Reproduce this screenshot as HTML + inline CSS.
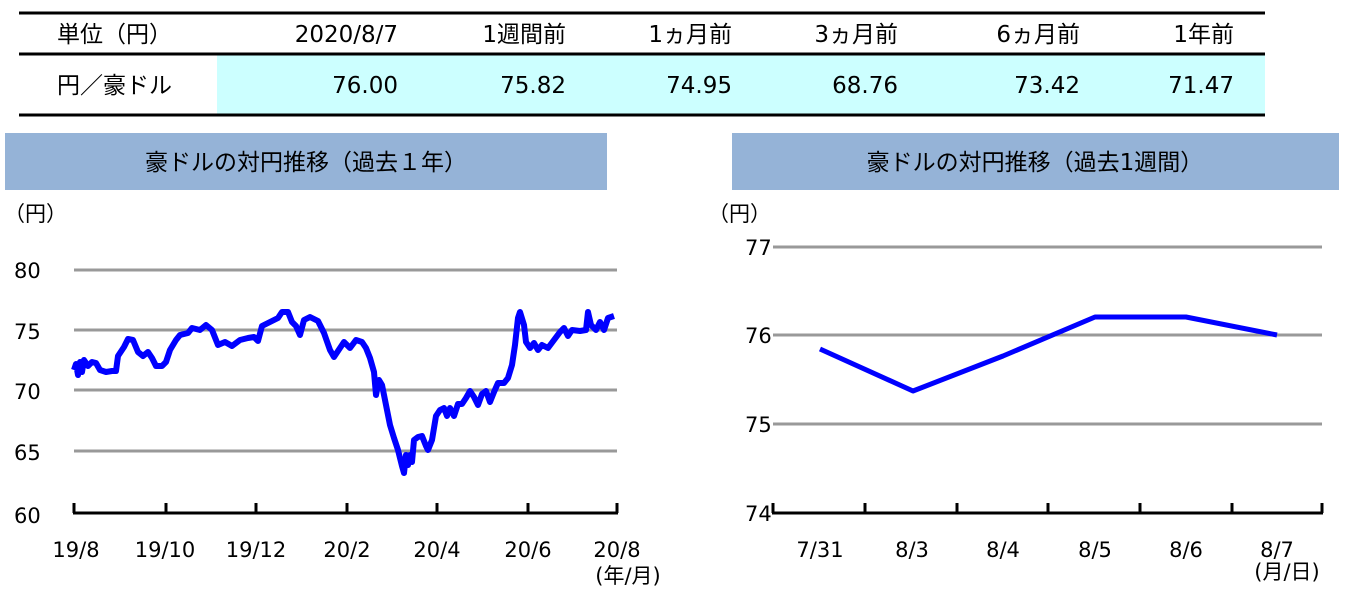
<!DOCTYPE html>
<html><head><meta charset="utf-8"><style>
body{margin:0;width:1349px;height:593px;background:#fff;overflow:hidden;}
svg text{font-family:"DejaVu Sans","Noto Sans CJK JP",sans-serif;}
</style></head><body>
<svg width="1349" height="593" xmlns="http://www.w3.org/2000/svg">
<rect x="217" y="54" width="1048" height="60" fill="#ccffff"/>
<line x1="19" y1="13" x2="1265" y2="13" stroke="#000" stroke-width="3"/>
<line x1="19" y1="54" x2="1265" y2="54" stroke="#000" stroke-width="3"/>
<line x1="19" y1="115" x2="1265" y2="115" stroke="#000" stroke-width="3"/>
<g font-size="23" fill="#000">
<text x="57" y="42">単位（円）</text>
<text x="398" y="42" text-anchor="end">2020/8/7</text>
<text x="566" y="42" text-anchor="end">1週間前</text>
<text x="732" y="42" text-anchor="end">1ヵ月前</text>
<text x="898" y="42" text-anchor="end">3ヵ月前</text>
<text x="1080" y="42" text-anchor="end">6ヵ月前</text>
<text x="1234" y="42" text-anchor="end">1年前</text>
<text x="57" y="93">円／豪ドル</text>
<text x="398" y="93" text-anchor="end">76.00</text>
<text x="566" y="93" text-anchor="end">75.82</text>
<text x="732" y="93" text-anchor="end">74.95</text>
<text x="898" y="93" text-anchor="end">68.76</text>
<text x="1080" y="93" text-anchor="end">73.42</text>
<text x="1234" y="93" text-anchor="end">71.47</text>
</g>
<rect x="5" y="133" width="602" height="57" fill="#95b3d7"/>
<text x="306" y="170" font-size="23" text-anchor="middle">豪ドルの対円推移（過去１年）</text>
<rect x="732" y="133" width="607" height="57" fill="#95b3d7"/>
<text x="1035" y="170" font-size="23" text-anchor="middle">豪ドルの対円推移（過去1週間）</text>
<g font-size="21">
<text x="4" y="221">（円）</text>
<text x="14" y="278">80</text><text x="14" y="339">75</text><text x="14" y="399">70</text><text x="14" y="460">65</text><text x="14" y="523">60</text>
</g>
<g stroke="#999" stroke-width="3">
<line x1="74" y1="270" x2="617" y2="270"/><line x1="74" y1="330" x2="617" y2="330"/><line x1="74" y1="390" x2="617" y2="390"/><line x1="74" y1="451" x2="617" y2="451"/>
</g>
<g stroke="#000" stroke-width="3">
<line x1="73" y1="513" x2="618" y2="513"/>
<line x1="74" y1="503" x2="74" y2="513"/><line x1="166" y1="503" x2="166" y2="513"/><line x1="256" y1="503" x2="256" y2="513"/><line x1="347" y1="503" x2="347" y2="513"/><line x1="437" y1="503" x2="437" y2="513"/><line x1="528" y1="503" x2="528" y2="513"/><line x1="617" y1="503" x2="617" y2="513"/>
</g>
<g font-size="21" text-anchor="middle">
<text x="76" y="557">19/8</text><text x="165" y="557">19/10</text><text x="256" y="557">19/12</text><text x="347" y="557">20/2</text><text x="437" y="557">20/4</text><text x="528" y="557">20/6</text><text x="617" y="557">20/8</text>
<text x="628" y="583">(年/月)</text>
</g>
<polyline fill="none" stroke="#0000ff" stroke-width="6" stroke-linejoin="round" points="74,370 76,364 78,375 80,362 82,372 84,360 88,366 92,362 96,363 100,370 106,372 112,371 116,371 118,356 124,347 128,339 133,340 138,352 143,356 148,352 152,358 156,366 162,366 166,362 170,350 176,340 180,335 188,333 192,328 200,330 206,325 212,330 218,345 225,342 232,346 240,340 248,338 254,337 258,341 262,326 270,322 278,318 282,312 288,312 292,322 296,326 300,335 304,320 310,317 318,321 324,333 330,350 334,357 340,348 344,342 350,348 356,340 362,342 366,348 370,358 374,372 376,395 379,380 382,385 386,405 390,425 394,438 398,450 402,466 404,473 406,455 408,465 410,455 412,462 414,440 418,437 422,436 426,446 428,450 432,440 436,416 440,410 444,408 447,416 450,408 454,416 458,404 462,404 466,398 470,391 474,397 478,405 482,394 486,391 490,402 494,392 498,383 504,383 508,378 512,365 515,345 518,318 520,312 524,325 526,342 530,348 534,343 538,350 542,345 548,348 554,340 560,332 564,328 568,336 572,330 580,331 586,330 588,312 591,325 596,330 600,322 604,330 608,318 614,316"/>
<g font-size="21">
<text x="708" y="221">（円）</text>
<text x="745" y="255">77</text><text x="745" y="343">76</text><text x="745" y="432">75</text><text x="745" y="521">74</text>
</g>
<g stroke="#999" stroke-width="3">
<line x1="773" y1="247" x2="1322" y2="247"/><line x1="773" y1="335" x2="1322" y2="335"/><line x1="773" y1="424" x2="1322" y2="424"/>
</g>
<g stroke="#000" stroke-width="3">
<line x1="772" y1="513" x2="1323" y2="513"/>
<line x1="773" y1="503" x2="773" y2="513"/><line x1="865" y1="503" x2="865" y2="513"/><line x1="957" y1="503" x2="957" y2="513"/><line x1="1048" y1="503" x2="1048" y2="513"/><line x1="1140" y1="503" x2="1140" y2="513"/><line x1="1232" y1="503" x2="1232" y2="513"/><line x1="1322" y1="503" x2="1322" y2="513"/>
</g>
<g font-size="21" text-anchor="middle">
<text x="820" y="557">7/31</text><text x="912" y="557">8/3</text><text x="1003" y="557">8/4</text><text x="1095" y="557">8/5</text><text x="1186" y="557">8/6</text><text x="1277" y="557">8/7</text>
<text x="1287" y="579">(月/日)</text>
</g>
<polyline fill="none" stroke="#0000ff" stroke-width="5" stroke-linejoin="round" points="820,349 913,391 1003,356 1095,317 1186,317 1277,335"/>
</svg>
</body></html>
